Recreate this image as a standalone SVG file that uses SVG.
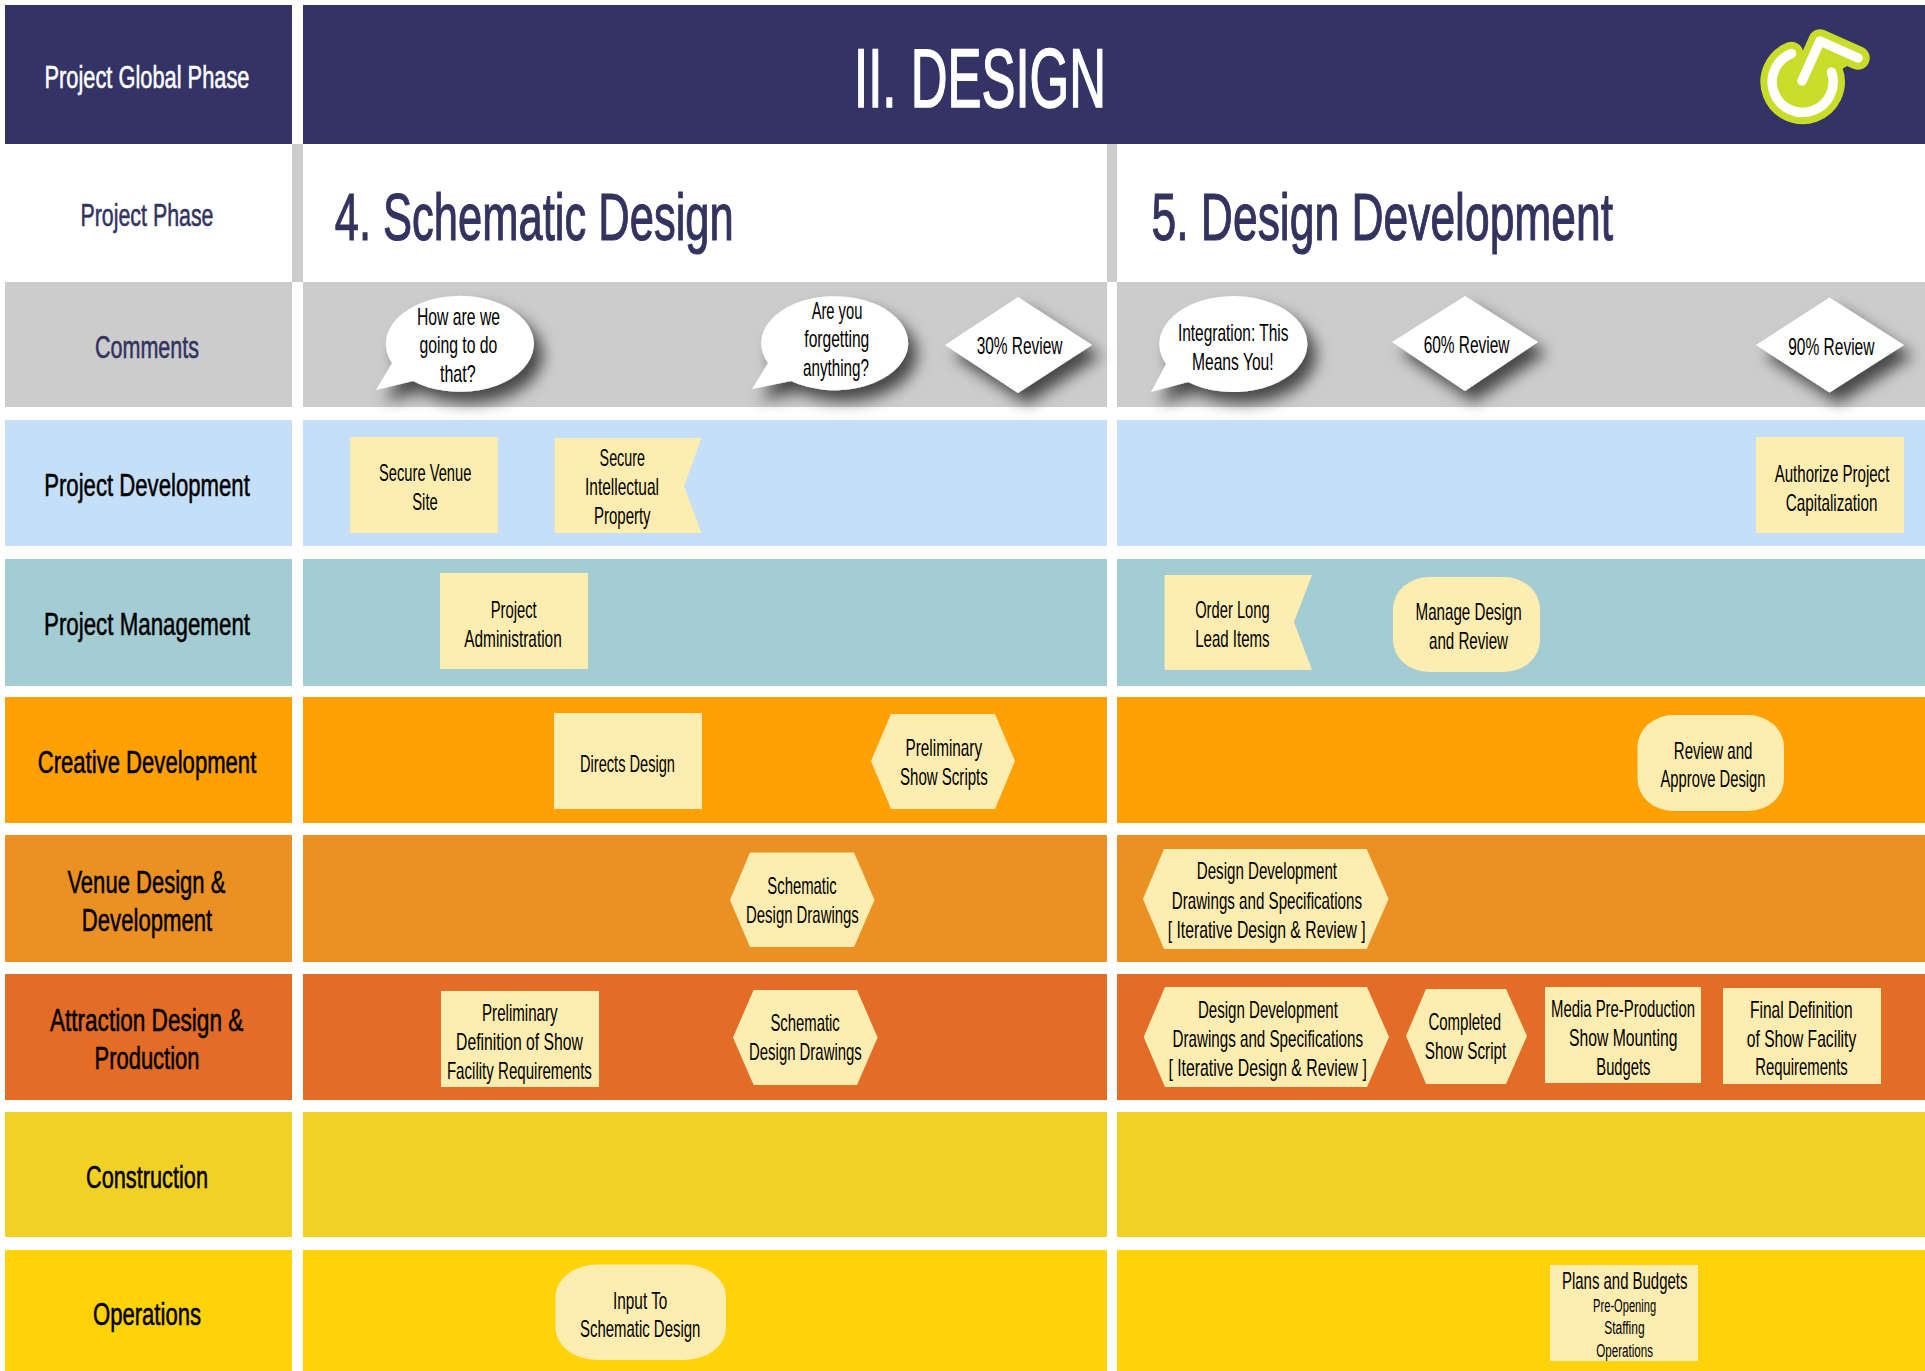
<svg xmlns="http://www.w3.org/2000/svg" width="1925" height="1371" viewBox="0 0 1925 1371">
<style>
text{font-family:"Liberation Sans Narrow","Liberation Sans",Arial,sans-serif;text-anchor:middle;fill:#000}
.t{font-size:24px}
.s{font-size:18px}
.h{font-size:32px;stroke:#000;stroke-width:.55px}
.w{fill:#fff;stroke:#fff}
.n{fill:#33335f;stroke:#33335f}
.big{font-size:66px;fill:#33335f;stroke:#33335f;stroke-width:1.1px}
.title{font-size:84px;fill:#fff;stroke:#fff;stroke-width:1.6px}
.y{fill:#feedb0}
.bw{fill:#fff;filter:url(#sh)}
.navy{fill:#333365}.gray{fill:#ccc}.blue{fill:#c6dff8}.teal{fill:#a3cdd3}.or{fill:#ffa103}.dor{fill:#eb9124}.red{fill:#e36c27}.mus{fill:#f1d125}.yel{fill:#ffd20a}
</style>
<defs>
<filter id="sh" x="-20%" y="-20%" width="150%" height="170%"><feDropShadow dx="9" dy="11" stdDeviation="7.5" flood-color="#000" flood-opacity=".65"/></filter>
</defs>
<rect width="1925" height="1371" fill="#fff"/>
<g id="bands">
<rect class="navy" x="5" y="5" width="287" height="139"/><rect class="navy" x="303" y="5" width="1622" height="139"/>
<rect class="gray" x="292" y="144" width="11" height="138"/><rect class="gray" x="1107" y="144" width="10" height="138"/>
<rect class="gray" x="5" y="282" width="287" height="125"/><rect class="gray" x="303" y="282" width="804" height="125"/><rect class="gray" x="1117" y="282" width="808" height="125"/>
<rect class="blue" x="5" y="420" width="287" height="126"/><rect class="blue" x="303" y="420" width="804" height="126"/><rect class="blue" x="1117" y="420" width="808" height="126"/>
<rect class="teal" x="5" y="559" width="287" height="127"/><rect class="teal" x="303" y="559" width="804" height="127"/><rect class="teal" x="1117" y="559" width="808" height="127"/>
<rect class="or" x="5" y="697" width="287" height="126"/><rect class="or" x="303" y="697" width="804" height="126"/><rect class="or" x="1117" y="697" width="808" height="126"/>
<rect class="dor" x="5" y="835" width="287" height="127"/><rect class="dor" x="303" y="835" width="804" height="127"/><rect class="dor" x="1117" y="835" width="808" height="127"/>
<rect class="red" x="5" y="974" width="287" height="126"/><rect class="red" x="303" y="974" width="804" height="126"/><rect class="red" x="1117" y="974" width="808" height="126"/>
<rect class="mus" x="5" y="1112" width="287" height="125"/><rect class="mus" x="303" y="1112" width="804" height="125"/><rect class="mus" x="1117" y="1112" width="808" height="125"/>
<rect class="yel" x="5" y="1250" width="287" height="121"/><rect class="yel" x="303" y="1250" width="804" height="121"/><rect class="yel" x="1117" y="1250" width="808" height="121"/>
</g>
<g id="row-labels">
<text class="h w" x="147" y="87.5" textLength="205" lengthAdjust="spacingAndGlyphs">Project Global Phase</text>
<text class="h n" x="147" y="225.7" textLength="133" lengthAdjust="spacingAndGlyphs">Project Phase</text>
<text class="h n" x="147" y="358" textLength="104" lengthAdjust="spacingAndGlyphs">Comments</text>
<text class="h" x="147" y="496.4" textLength="205.6" lengthAdjust="spacingAndGlyphs">Project Development</text>
<text class="h" x="147" y="635" textLength="206" lengthAdjust="spacingAndGlyphs">Project Management</text>
<text class="h" x="147" y="773" textLength="218.6" lengthAdjust="spacingAndGlyphs">Creative Development</text>
<text class="h" x="146.4" y="893" textLength="158" lengthAdjust="spacingAndGlyphs">Venue Design &amp;</text>
<text class="h" x="147" y="930.7" textLength="130.4" lengthAdjust="spacingAndGlyphs">Development</text>
<text class="h" x="146.6" y="1030.7" textLength="193.4" lengthAdjust="spacingAndGlyphs">Attraction Design &amp;</text>
<text class="h" x="147" y="1068.5" textLength="105" lengthAdjust="spacingAndGlyphs">Production</text>
<text class="h" x="147" y="1188" textLength="122" lengthAdjust="spacingAndGlyphs">Construction</text>
<text class="h" x="147" y="1325" textLength="108" lengthAdjust="spacingAndGlyphs">Operations</text>
</g>
<g id="headers">
<text class="title" x="980" y="107" textLength="252" lengthAdjust="spacingAndGlyphs">II. DESIGN</text>
<text class="big" x="534.2" y="240" textLength="399" lengthAdjust="spacingAndGlyphs">4. Schematic Design</text>
<text class="big" x="1382.3" y="240" textLength="461.6" lengthAdjust="spacingAndGlyphs">5. Design Development</text>
</g>
<g id="logo" fill="none" stroke-linecap="round" stroke-linejoin="round">
<ellipse cx="1802.5" cy="82" rx="30.5" ry="30.5" fill="#c9dc2a"/>
<path d="M1802,81L1820,41L1858,58L1832,72Z" fill="#c9dc2a" stroke="#c9dc2a" stroke-width="4"/>
<path d="M1791.5,53.5A30.5,30.5 0 1 0 1831.5,72M1802,81L1820,41L1858,58" stroke="#c9dc2a" stroke-width="23.5"/>
<path d="M1791.5,53.5A30.5,30.5 0 1 0 1831.5,72M1802,81L1820,41L1858,58" stroke="#fff" stroke-width="9.5"/>
</g>
<g id="comment-how">
<path class="bw" d="M392,363A74,48 0 1 1 413,381L376,390Z"/>
<text class="t" x="458.5" y="325" textLength="83" lengthAdjust="spacingAndGlyphs">How are we</text>
<text class="t" x="458.4" y="353" textLength="78" lengthAdjust="spacingAndGlyphs">going to do</text>
<text class="t" x="457.8" y="382" textLength="35.7" lengthAdjust="spacingAndGlyphs">that?</text>
</g>
<g id="comment-forgetting">
<path class="bw" d="M768,363A73.5,47 0 1 1 791,381L752,389Z"/>
<text class="t" x="837" y="319" textLength="50.7" lengthAdjust="spacingAndGlyphs">Are you</text>
<text class="t" x="836.8" y="347" textLength="65" lengthAdjust="spacingAndGlyphs">forgetting</text>
<text class="t" x="836" y="376" textLength="66" lengthAdjust="spacingAndGlyphs">anything?</text>
</g>
<g id="review-30">
<path class="bw" d="M1018,297L1092,345L1018,393L945,345Z"/>
<text class="t" x="1019.5" y="354" textLength="85.7" lengthAdjust="spacingAndGlyphs">30% Review</text>
</g>
<g id="comment-integration">
<path class="bw" d="M1166,364A74,48 0 1 1 1188,382L1151,392Z"/>
<text class="t" x="1233.2" y="341" textLength="110.5" lengthAdjust="spacingAndGlyphs">Integration: This</text>
<text class="t" x="1232.8" y="370" textLength="81.6" lengthAdjust="spacingAndGlyphs">Means You!</text>
</g>
<g id="review-60">
<path class="bw" d="M1465,296L1538,342L1465,391L1392,342Z"/>
<text class="t" x="1466.6" y="353" textLength="85.8" lengthAdjust="spacingAndGlyphs">60% Review</text>
</g>
<g id="review-90">
<path class="bw" d="M1829.5,297.5L1904,345L1829.5,392.5L1756,345Z"/>
<text class="t" x="1831.3" y="355" textLength="86.3" lengthAdjust="spacingAndGlyphs">90% Review</text>
</g>
<g id="secure-venue">
<rect class="y" x="350" y="437" width="148" height="96"/>
<text class="t" x="425.2" y="480.7" textLength="92.4" lengthAdjust="spacingAndGlyphs">Secure Venue</text>
<text class="t" x="425" y="510" textLength="25.5" lengthAdjust="spacingAndGlyphs">Site</text>
</g>
<g id="secure-ip">
<path class="y" d="M554.6,438H701.5L684,486L701.5,533H554.6Z"/>
<text class="t" x="622.3" y="466" textLength="45.4" lengthAdjust="spacingAndGlyphs">Secure</text>
<text class="t" x="622" y="495" textLength="74" lengthAdjust="spacingAndGlyphs">Intellectual</text>
<text class="t" x="622.3" y="523.6" textLength="56.6" lengthAdjust="spacingAndGlyphs">Property</text>
</g>
<g id="authorize">
<rect class="y" x="1756" y="437" width="148" height="96"/>
<text class="t" x="1832" y="482" textLength="114.7" lengthAdjust="spacingAndGlyphs">Authorize Project</text>
<text class="t" x="1831.6" y="510.7" textLength="91.6" lengthAdjust="spacingAndGlyphs">Capitalization</text>
</g>
<g id="project-admin">
<rect class="y" x="440" y="573" width="148" height="96"/>
<text class="t" x="513.7" y="618" textLength="46" lengthAdjust="spacingAndGlyphs">Project</text>
<text class="t" x="513" y="647" textLength="97.4" lengthAdjust="spacingAndGlyphs">Administration</text>
</g>
<g id="order-long">
<path class="y" d="M1164.6,575H1312L1294,622L1312,670H1164.6Z"/>
<text class="t" x="1232.4" y="618" textLength="74.5" lengthAdjust="spacingAndGlyphs">Order Long</text>
<text class="t" x="1232.4" y="646.7" textLength="74.5" lengthAdjust="spacingAndGlyphs">Lead Items</text>
</g>
<g id="manage-design">
<rect class="y" x="1393" y="577" width="147" height="95" rx="36" ry="32"/>
<text class="t" x="1468.6" y="620" textLength="106" lengthAdjust="spacingAndGlyphs">Manage Design</text>
<text class="t" x="1468.5" y="648.7" textLength="79" lengthAdjust="spacingAndGlyphs">and Review</text>
</g>
<g id="directs-design">
<rect class="y" x="554" y="713" width="148" height="96"/>
<text class="t" x="627.5" y="772" textLength="95" lengthAdjust="spacingAndGlyphs">Directs Design</text>
</g>
<g id="show-scripts">
<path class="y" d="M891,714H995L1015,761L995,809H891L871,761Z"/>
<text class="t" x="943.8" y="756" textLength="76.5" lengthAdjust="spacingAndGlyphs">Preliminary</text>
<text class="t" x="943.9" y="785" textLength="87.8" lengthAdjust="spacingAndGlyphs">Show Scripts</text>
</g>
<g id="review-approve">
<rect class="y" x="1637.5" y="715" width="146.5" height="96" rx="36" ry="32"/>
<text class="t" x="1713.1" y="758.7" textLength="78.6" lengthAdjust="spacingAndGlyphs">Review and</text>
<text class="t" x="1713" y="786.7" textLength="105" lengthAdjust="spacingAndGlyphs">Approve Design</text>
</g>
<g id="schematic-venue">
<path class="y" d="M750,852.5H854L874.5,900L854,947H750L730,900Z"/>
<text class="t" x="802" y="894" textLength="69.4" lengthAdjust="spacingAndGlyphs">Schematic</text>
<text class="t" x="802.4" y="923" textLength="112.7" lengthAdjust="spacingAndGlyphs">Design Drawings</text>
</g>
<g id="dd-venue">
<path class="y" d="M1164,849H1366.6L1388.6,899L1366.6,949H1164L1143,899Z"/>
<text class="t" x="1266.9" y="879.3" textLength="140.3" lengthAdjust="spacingAndGlyphs">Design Development</text>
<text class="t" x="1266.9" y="908.7" textLength="190.3" lengthAdjust="spacingAndGlyphs">Drawings and Specifications</text>
<text class="t" x="1266.7" y="937.7" textLength="198" lengthAdjust="spacingAndGlyphs">[ Iterative Design &amp; Review ]</text>
</g>
<g id="prelim-definition">
<rect class="y" x="441" y="991" width="158" height="96"/>
<text class="t" x="519.8" y="1020.7" textLength="75.5" lengthAdjust="spacingAndGlyphs">Preliminary</text>
<text class="t" x="519.5" y="1049.6" textLength="127" lengthAdjust="spacingAndGlyphs">Definition of Show</text>
<text class="t" x="519.4" y="1078.6" textLength="145" lengthAdjust="spacingAndGlyphs">Facility Requirements</text>
</g>
<g id="schematic-attraction">
<path class="y" d="M753.6,990H857L877.6,1037.5L857,1085H753.6L733,1037.5Z"/>
<text class="t" x="805.1" y="1031" textLength="69.4" lengthAdjust="spacingAndGlyphs">Schematic</text>
<text class="t" x="805.4" y="1060" textLength="112.7" lengthAdjust="spacingAndGlyphs">Design Drawings</text>
</g>
<g id="dd-attraction">
<path class="y" d="M1165,987H1367L1389,1037L1367,1087H1165L1143.7,1037Z"/>
<text class="t" x="1267.9" y="1017.7" textLength="140" lengthAdjust="spacingAndGlyphs">Design Development</text>
<text class="t" x="1267.8" y="1046.7" textLength="190.5" lengthAdjust="spacingAndGlyphs">Drawings and Specifications</text>
<text class="t" x="1267.6" y="1076" textLength="198.4" lengthAdjust="spacingAndGlyphs">[ Iterative Design &amp; Review ]</text>
</g>
<g id="completed-script">
<path class="y" d="M1426,989H1506L1527,1036L1506,1084H1426L1406,1036Z"/>
<text class="t" x="1464.7" y="1030" textLength="72.6" lengthAdjust="spacingAndGlyphs">Completed</text>
<text class="t" x="1465.5" y="1058.7" textLength="81.6" lengthAdjust="spacingAndGlyphs">Show Script</text>
</g>
<g id="media-budgets">
<rect class="y" x="1545" y="987" width="156" height="96"/>
<text class="t" x="1623" y="1016.7" textLength="144" lengthAdjust="spacingAndGlyphs">Media Pre-Production</text>
<text class="t" x="1623.2" y="1045.7" textLength="108.4" lengthAdjust="spacingAndGlyphs">Show Mounting</text>
<text class="t" x="1623.4" y="1074.7" textLength="54.2" lengthAdjust="spacingAndGlyphs">Budgets</text>
</g>
<g id="final-definition">
<rect class="y" x="1723" y="988" width="158" height="96"/>
<text class="t" x="1801.3" y="1017.7" textLength="102.6" lengthAdjust="spacingAndGlyphs">Final Definition</text>
<text class="t" x="1801.5" y="1046.7" textLength="109.5" lengthAdjust="spacingAndGlyphs">of Show Facility</text>
<text class="t" x="1801.5" y="1074.7" textLength="92.6" lengthAdjust="spacingAndGlyphs">Requirements</text>
</g>
<g id="input-to">
<rect class="y" x="555.5" y="1264.6" width="170.5" height="95.4" rx="42" ry="32"/>
<text class="t" x="640.2" y="1308.6" textLength="54.3" lengthAdjust="spacingAndGlyphs">Input To</text>
<text class="t" x="640.2" y="1336.8" textLength="120.2" lengthAdjust="spacingAndGlyphs">Schematic Design</text>
</g>
<g id="plans-budgets">
<rect class="y" x="1550" y="1265" width="148" height="96"/>
<text class="t" x="1624.7" y="1289.3" textLength="125.3" lengthAdjust="spacingAndGlyphs">Plans and Budgets</text>
<text class="s" x="1624.6" y="1312.3" textLength="63" lengthAdjust="spacingAndGlyphs">Pre-Opening</text>
<text class="s" x="1624.4" y="1334.3" textLength="40.5" lengthAdjust="spacingAndGlyphs">Staffing</text>
<text class="s" x="1624.6" y="1356.7" textLength="56.8" lengthAdjust="spacingAndGlyphs">Operations</text>
</g>
</svg>
